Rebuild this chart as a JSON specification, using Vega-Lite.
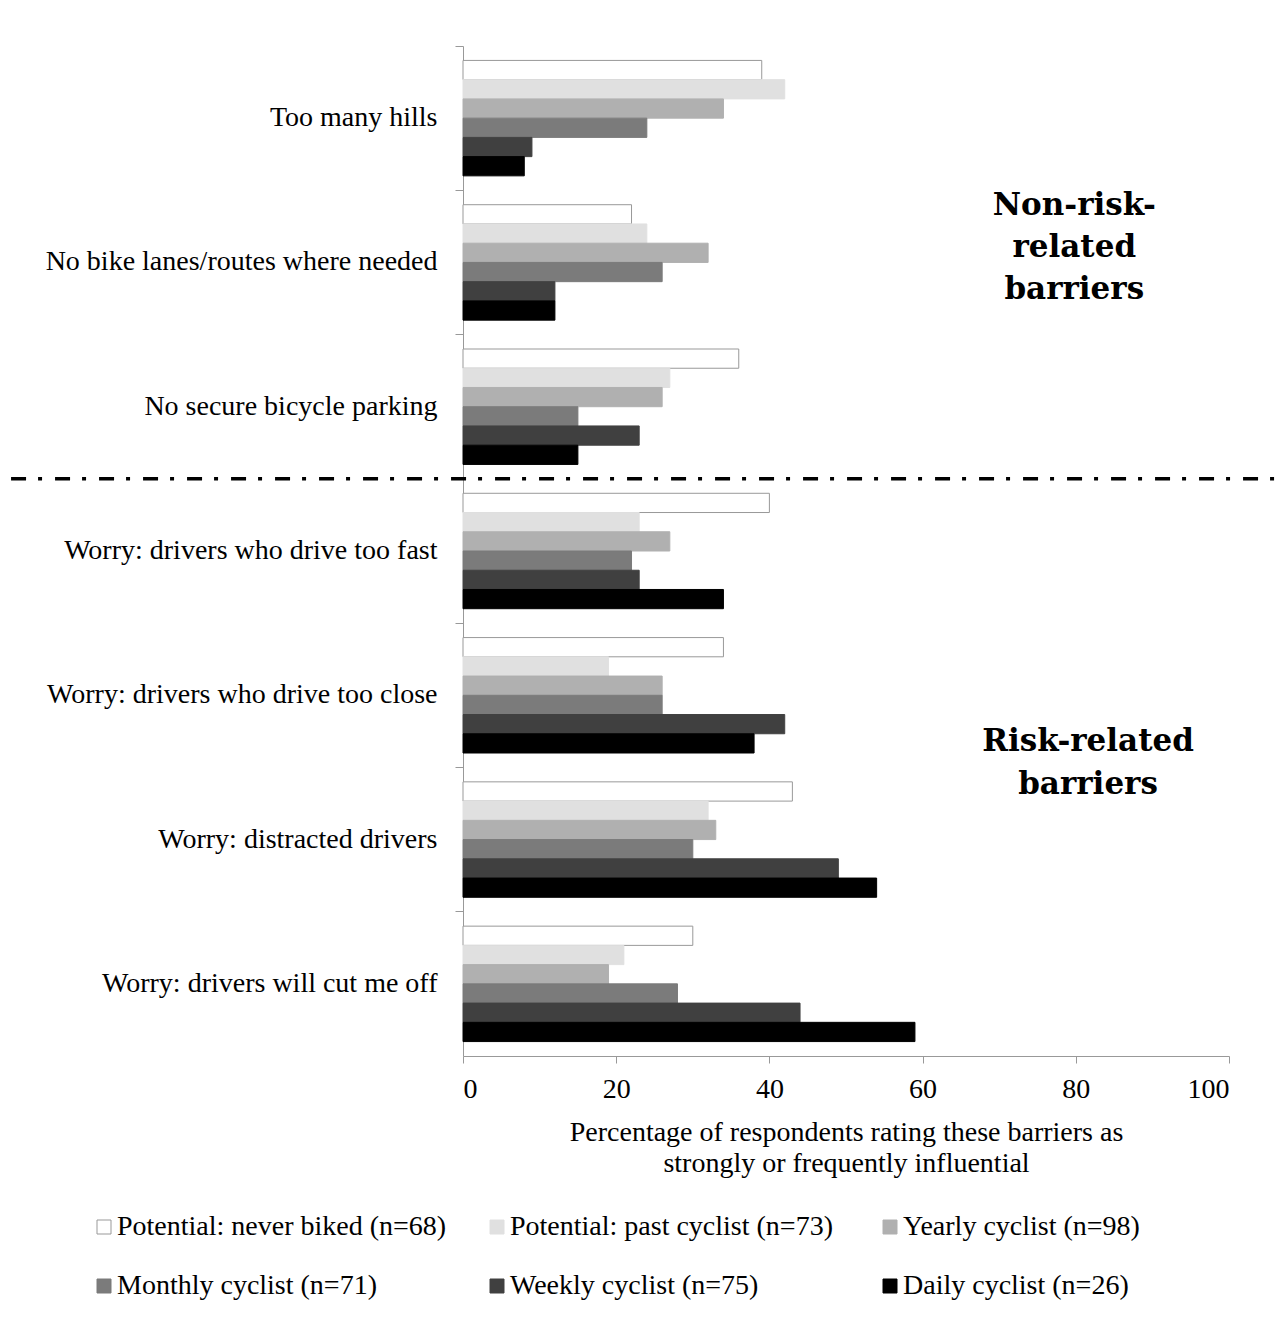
{
  "$schema": "https://vega.github.io/schema/vega-lite/v6.json",
  "width": 766,
  "height": 1010,
  "padding": {"top": 45, "left": 5, "right": 5, "bottom": 5},
  "background": "white",
  "config": {
    "view": {"stroke": null},
    "font": "Liberation Serif",
    "axis": {"labelFont": "Liberation Serif", "titleFont": "Liberation Serif", "labelColor": "black", "titleColor": "black", "domainColor": "#999999", "tickColor": "#999999", "grid": false},
    "legend": {"labelFont": "Liberation Serif", "labelColor": "black"}
  },
  "datasets": {
    "bars": [
      {"barrier": "Too many hills", "group": "Potential: never biked (n=68)", "value": 39},
      {"barrier": "Too many hills", "group": "Potential: past cyclist (n=73)", "value": 42},
      {"barrier": "Too many hills", "group": "Yearly cyclist (n=98)", "value": 34},
      {"barrier": "Too many hills", "group": "Monthly cyclist (n=71)", "value": 24},
      {"barrier": "Too many hills", "group": "Weekly cyclist (n=75)", "value": 9},
      {"barrier": "Too many hills", "group": "Daily cyclist (n=26)", "value": 8},
      {"barrier": "No bike lanes/routes where needed", "group": "Potential: never biked (n=68)", "value": 22},
      {"barrier": "No bike lanes/routes where needed", "group": "Potential: past cyclist (n=73)", "value": 24},
      {"barrier": "No bike lanes/routes where needed", "group": "Yearly cyclist (n=98)", "value": 32},
      {"barrier": "No bike lanes/routes where needed", "group": "Monthly cyclist (n=71)", "value": 26},
      {"barrier": "No bike lanes/routes where needed", "group": "Weekly cyclist (n=75)", "value": 12},
      {"barrier": "No bike lanes/routes where needed", "group": "Daily cyclist (n=26)", "value": 12},
      {"barrier": "No secure bicycle parking", "group": "Potential: never biked (n=68)", "value": 36},
      {"barrier": "No secure bicycle parking", "group": "Potential: past cyclist (n=73)", "value": 27},
      {"barrier": "No secure bicycle parking", "group": "Yearly cyclist (n=98)", "value": 26},
      {"barrier": "No secure bicycle parking", "group": "Monthly cyclist (n=71)", "value": 15},
      {"barrier": "No secure bicycle parking", "group": "Weekly cyclist (n=75)", "value": 23},
      {"barrier": "No secure bicycle parking", "group": "Daily cyclist (n=26)", "value": 15},
      {"barrier": "Worry: drivers who drive too fast", "group": "Potential: never biked (n=68)", "value": 40},
      {"barrier": "Worry: drivers who drive too fast", "group": "Potential: past cyclist (n=73)", "value": 23},
      {"barrier": "Worry: drivers who drive too fast", "group": "Yearly cyclist (n=98)", "value": 27},
      {"barrier": "Worry: drivers who drive too fast", "group": "Monthly cyclist (n=71)", "value": 22},
      {"barrier": "Worry: drivers who drive too fast", "group": "Weekly cyclist (n=75)", "value": 23},
      {"barrier": "Worry: drivers who drive too fast", "group": "Daily cyclist (n=26)", "value": 34},
      {"barrier": "Worry: drivers who drive too close", "group": "Potential: never biked (n=68)", "value": 34},
      {"barrier": "Worry: drivers who drive too close", "group": "Potential: past cyclist (n=73)", "value": 19},
      {"barrier": "Worry: drivers who drive too close", "group": "Yearly cyclist (n=98)", "value": 26},
      {"barrier": "Worry: drivers who drive too close", "group": "Monthly cyclist (n=71)", "value": 26},
      {"barrier": "Worry: drivers who drive too close", "group": "Weekly cyclist (n=75)", "value": 42},
      {"barrier": "Worry: drivers who drive too close", "group": "Daily cyclist (n=26)", "value": 38},
      {"barrier": "Worry: distracted drivers", "group": "Potential: never biked (n=68)", "value": 43},
      {"barrier": "Worry: distracted drivers", "group": "Potential: past cyclist (n=73)", "value": 32},
      {"barrier": "Worry: distracted drivers", "group": "Yearly cyclist (n=98)", "value": 33},
      {"barrier": "Worry: distracted drivers", "group": "Monthly cyclist (n=71)", "value": 30},
      {"barrier": "Worry: distracted drivers", "group": "Weekly cyclist (n=75)", "value": 49},
      {"barrier": "Worry: distracted drivers", "group": "Daily cyclist (n=26)", "value": 54},
      {"barrier": "Worry: drivers will cut me off", "group": "Potential: never biked (n=68)", "value": 30},
      {"barrier": "Worry: drivers will cut me off", "group": "Potential: past cyclist (n=73)", "value": 21},
      {"barrier": "Worry: drivers will cut me off", "group": "Yearly cyclist (n=98)", "value": 19},
      {"barrier": "Worry: drivers will cut me off", "group": "Monthly cyclist (n=71)", "value": 28},
      {"barrier": "Worry: drivers will cut me off", "group": "Weekly cyclist (n=75)", "value": 44},
      {"barrier": "Worry: drivers will cut me off", "group": "Daily cyclist (n=26)", "value": 59}
    ],
    "notes": [
      {"label": ["Non-risk-", "related", "barriers"]}
    ],
    "notes2": [
      {"label": ["Risk-related", "barriers"]}
    ]
  },
  "layer": [
    {
      "data": {"name": "bars"},
      "mark": {"type": "bar", "strokeWidth": 1},
      "encoding": {
        "y": {
          "field": "barrier", "type": "nominal",
          "sort": ["Too many hills", "No bike lanes/routes where needed", "No secure bicycle parking", "Worry: drivers who drive too fast", "Worry: drivers who drive too close", "Worry: distracted drivers", "Worry: drivers will cut me off"],
          "scale": {"paddingInner": 0, "paddingOuter": 0},
          "axis": {"title": null, "bandPosition": 0, "tickSize": 8, "labelPadding": 18, "labelFontSize": 28, "labelLimit": 600, "minExtent": 458, "maxExtent": 458}
        },
        "yOffset": {
          "field": "group", "type": "nominal",
          "sort": ["Potential: never biked (n=68)", "Potential: past cyclist (n=73)", "Yearly cyclist (n=98)", "Monthly cyclist (n=71)", "Weekly cyclist (n=75)", "Daily cyclist (n=26)"],
          "scale": {"paddingInner": 0, "paddingOuter": 0.75}
        },
        "x": {
          "field": "value", "type": "quantitative",
          "scale": {"domain": [0, 100]},
          "axis": {"values": [0, 20, 40, 60, 80, 100], "tickSize": 7, "labelFontSize": 28, "labelPadding": 12, "titleFontSize": 28, "titleFontWeight": "normal", "titlePadding": 15, "titleLineHeight": 31,
            "title": ["Percentage of respondents rating these barriers as", "strongly or frequently influential"]}
        },
        "fill": {
          "field": "group", "type": "nominal",
          "sort": ["Potential: never biked (n=68)", "Potential: past cyclist (n=73)", "Yearly cyclist (n=98)", "Monthly cyclist (n=71)", "Weekly cyclist (n=75)", "Daily cyclist (n=26)"],
          "scale": {"range": ["#ffffff", "#e0e0e0", "#b0b0b0", "#7b7b7b", "#404040", "#000000"]},
          "legend": {"title": null, "orient": "none", "legendX": -373, "legendY": 1167, "columns": 3, "direction": "horizontal", "gridAlign": "all", "symbolType": "square", "symbolSize": 196, "symbolStrokeWidth": 1, "labelFontSize": 28, "labelOffset": -1, "columnPadding": 36, "rowPadding": 31, "labelLimit": 500,
            "encode": {"symbols": {"update": {"stroke": {"scale": "stroke", "field": "value"}}}}}
        },
        "stroke": {
          "field": "group", "type": "nominal",
          "sort": ["Potential: never biked (n=68)", "Potential: past cyclist (n=73)", "Yearly cyclist (n=98)", "Monthly cyclist (n=71)", "Weekly cyclist (n=75)", "Daily cyclist (n=26)"],
          "scale": {"range": ["#999999", "#e0e0e0", "#b0b0b0", "#7b7b7b", "#404040", "#000000"]},
          "legend": null
        }
      }
    },
    {
      "data": {"values": [{}]},
      "mark": {"type": "rule", "strokeWidth": 3.5, "strokeDash": [15, 12, 4, 13], "color": "black"},
      "encoding": {
        "x": {"datum": -59, "type": "quantitative", "scale": {"domain": [0, 100]}},
        "x2": {"datum": 106.5},
        "y": {"datum": "Worry: drivers who drive too fast", "type": "nominal", "bandPosition": 0}
      }
    },
    {
      "data": {"name": "notes"},
      "mark": {"type": "text", "font": "DejaVu Serif", "fontSize": 31, "fontWeight": "bold", "align": "center", "baseline": "middle", "lineHeight": 42, "dy": -56, "color": "black"},
      "encoding": {
        "x": {"datum": 79.8, "type": "quantitative"},
        "y": {"datum": "No bike lanes/routes where needed", "type": "nominal"},
        "text": {"field": "label"}
      }
    },
    {
      "data": {"name": "notes2"},
      "mark": {"type": "text", "font": "DejaVu Serif", "fontSize": 31, "fontWeight": "bold", "align": "center", "baseline": "middle", "lineHeight": 43, "dy": 47, "color": "black"},
      "encoding": {
        "x": {"datum": 81.6, "type": "quantitative"},
        "y": {"datum": "Worry: drivers who drive too close", "type": "nominal"},
        "text": {"field": "label"}
      }
    }
  ]
}
